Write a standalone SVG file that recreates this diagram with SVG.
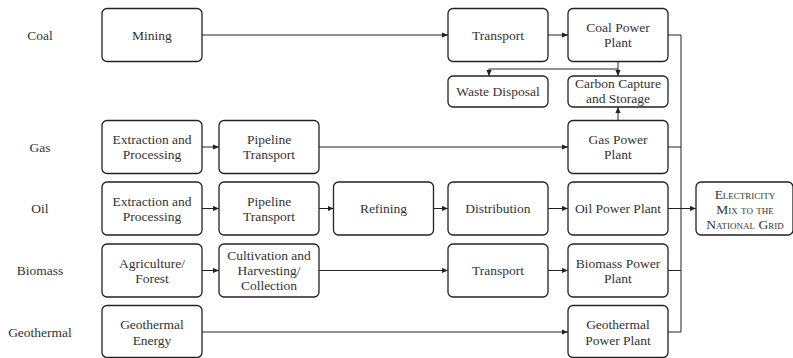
<svg xmlns="http://www.w3.org/2000/svg" width="793" height="358" viewBox="0 0 793 358">
<defs>
<marker id="ah" markerUnits="userSpaceOnUse" markerWidth="6" markerHeight="6" refX="6" refY="3" orient="auto">
<path d="M0,0.4 L6,3 L0,5.6 z" fill="#222"/>
</marker>
<style>
.box{fill:#fff;stroke:#222;stroke-width:1.3}
.c{fill:none;stroke:#222;stroke-width:1}
</style>
</defs>
<rect width="793" height="358" fill="#fff"/>
<g id="labels" fill="#333" text-anchor="middle">
<text style="font-family:'Liberation Serif',serif;font-size:13.5px" x="40" y="39.5">Coal</text>
<text style="font-family:'Liberation Serif',serif;font-size:13.5px" x="40" y="151.5">Gas</text>
<text style="font-family:'Liberation Serif',serif;font-size:13.5px" x="40" y="213">Oil</text>
<text style="font-family:'Liberation Serif',serif;font-size:13.5px" x="40" y="275">Biomass</text>
<text style="font-family:'Liberation Serif',serif;font-size:13.5px" x="40" y="336.5">Geothermal</text>
</g>
<g id="connectors">
<path class="c" d="M202,35 H448" marker-end="url(#ah)"/>
<path class="c" d="M548,35 H568" marker-end="url(#ah)"/>
<path class="c" d="M668,35 H681 V332"/>
<path class="c" d="M618,62 V69 H489 V76" marker-end="url(#ah)"/>
<path class="c" d="M618,69 V76" marker-end="url(#ah)"/>
<path class="c" d="M618,120.5 V107" marker-end="url(#ah)"/>
<path class="c" d="M202,147 H219" marker-end="url(#ah)"/>
<path class="c" d="M319,147 H568" marker-end="url(#ah)"/>
<path class="c" d="M668,147 H681"/>
<path class="c" d="M202,208.5 H219" marker-end="url(#ah)"/>
<path class="c" d="M319,208.5 H333.5" marker-end="url(#ah)"/>
<path class="c" d="M433.5,208.5 H448" marker-end="url(#ah)"/>
<path class="c" d="M548,208.5 H568" marker-end="url(#ah)"/>
<path class="c" d="M668,208.5 H696" marker-end="url(#ah)"/>
<path class="c" d="M202,270.5 H219" marker-end="url(#ah)"/>
<path class="c" d="M319,270.5 H448" marker-end="url(#ah)"/>
<path class="c" d="M548,270.5 H568" marker-end="url(#ah)"/>
<path class="c" d="M668,270.5 H681"/>
<path class="c" d="M202,332 H568" marker-end="url(#ah)"/>
<path class="c" d="M668,332 H681"/>
</g>
<g id="nodes" fill="#333" text-anchor="middle">
<g id="mining"><rect class="box" x="102" y="8.5" width="100" height="53" rx="5"/><text style="font-family:'Liberation Serif',serif;font-size:13.5px" x="152" y="39.5">Mining</text></g>
<g id="coal-transport"><rect class="box" x="448" y="8.5" width="100" height="53" rx="5"/><text style="font-family:'Liberation Serif',serif;font-size:13.5px" x="498" y="39.5">Transport</text></g>
<g id="coal-plant"><rect class="box" x="568" y="8.5" width="100" height="53" rx="5"/><text style="font-family:'Liberation Serif',serif;font-size:13.5px" x="618" y="32">Coal Power</text><text style="font-family:'Liberation Serif',serif;font-size:13.5px" x="618" y="47">Plant</text></g>
<g id="waste"><rect class="box" x="448" y="76" width="100" height="31" rx="5"/><text style="font-family:'Liberation Serif',serif;font-size:13.5px" x="498" y="95.5">Waste Disposal</text></g>
<g id="ccs"><rect class="box" x="568" y="76" width="100" height="31" rx="5"/><text style="font-family:'Liberation Serif',serif;font-size:13.5px" x="618" y="88">Carbon Capture</text><text style="font-family:'Liberation Serif',serif;font-size:13.5px" x="618" y="103">and Storage</text></g>
<g id="gas-extraction"><rect class="box" x="102" y="120.5" width="100" height="53" rx="5"/><text style="font-family:'Liberation Serif',serif;font-size:13.5px" x="152" y="144">Extraction and</text><text style="font-family:'Liberation Serif',serif;font-size:13.5px" x="152" y="159">Processing</text></g>
<g id="gas-pipeline"><rect class="box" x="219" y="120.5" width="100" height="53" rx="5"/><text style="font-family:'Liberation Serif',serif;font-size:13.5px" x="269" y="144">Pipeline</text><text style="font-family:'Liberation Serif',serif;font-size:13.5px" x="269" y="159">Transport</text></g>
<g id="gas-plant"><rect class="box" x="568" y="120.5" width="100" height="53" rx="5"/><text style="font-family:'Liberation Serif',serif;font-size:13.5px" x="618" y="144">Gas Power</text><text style="font-family:'Liberation Serif',serif;font-size:13.5px" x="618" y="159">Plant</text></g>
<g id="oil-extraction"><rect class="box" x="102" y="182" width="100" height="53" rx="5"/><text style="font-family:'Liberation Serif',serif;font-size:13.5px" x="152" y="205.5">Extraction and</text><text style="font-family:'Liberation Serif',serif;font-size:13.5px" x="152" y="220.5">Processing</text></g>
<g id="oil-pipeline"><rect class="box" x="219" y="182" width="100" height="53" rx="5"/><text style="font-family:'Liberation Serif',serif;font-size:13.5px" x="269" y="205.5">Pipeline</text><text style="font-family:'Liberation Serif',serif;font-size:13.5px" x="269" y="220.5">Transport</text></g>
<g id="refining"><rect class="box" x="333.5" y="182" width="100" height="53" rx="5"/><text style="font-family:'Liberation Serif',serif;font-size:13.5px" x="383.5" y="213">Refining</text></g>
<g id="distribution"><rect class="box" x="448" y="182" width="100" height="53" rx="5"/><text style="font-family:'Liberation Serif',serif;font-size:13.5px" x="498" y="213">Distribution</text></g>
<g id="oil-plant"><rect class="box" x="568" y="182" width="100" height="53" rx="5"/><text style="font-family:'Liberation Serif',serif;font-size:13.5px" x="618" y="213">Oil Power Plant</text></g>
<g id="grid"><rect class="box" x="696" y="182" width="97" height="53" rx="5"/><text style="font-family:'Liberation Serif',serif;font-size:13.5px;font-variant:small-caps" x="745" y="198.5">Electricity</text><text style="font-family:'Liberation Serif',serif;font-size:13.5px;font-variant:small-caps" x="745" y="213.5">Mix to the</text><text style="font-family:'Liberation Serif',serif;font-size:13.5px;font-variant:small-caps" x="745" y="228.5">National Grid</text></g>
<g id="agriculture"><rect class="box" x="102" y="244" width="100" height="53" rx="5"/><text style="font-family:'Liberation Serif',serif;font-size:13.5px" x="152" y="267.5">Agriculture/</text><text style="font-family:'Liberation Serif',serif;font-size:13.5px" x="152" y="282.5">Forest</text></g>
<g id="cultivation"><rect class="box" x="219" y="244" width="100" height="53" rx="5"/><text style="font-family:'Liberation Serif',serif;font-size:13.5px" x="269" y="260">Cultivation and</text><text style="font-family:'Liberation Serif',serif;font-size:13.5px" x="269" y="275">Harvesting/</text><text style="font-family:'Liberation Serif',serif;font-size:13.5px" x="269" y="290">Collection</text></g>
<g id="bio-transport"><rect class="box" x="448" y="244" width="100" height="53" rx="5"/><text style="font-family:'Liberation Serif',serif;font-size:13.5px" x="498" y="275">Transport</text></g>
<g id="bio-plant"><rect class="box" x="568" y="244" width="100" height="53" rx="5"/><text style="font-family:'Liberation Serif',serif;font-size:13.5px" x="618" y="267.5">Biomass Power</text><text style="font-family:'Liberation Serif',serif;font-size:13.5px" x="618" y="282.5">Plant</text></g>
<g id="geo-energy"><rect class="box" x="102" y="305.5" width="100" height="52" rx="5"/><text style="font-family:'Liberation Serif',serif;font-size:13.5px" x="152" y="329">Geothermal</text><text style="font-family:'Liberation Serif',serif;font-size:13.5px" x="152" y="344.5">Energy</text></g>
<g id="geo-plant"><rect class="box" x="568" y="305.5" width="100" height="52" rx="5"/><text style="font-family:'Liberation Serif',serif;font-size:13.5px" x="618" y="329">Geothermal</text><text style="font-family:'Liberation Serif',serif;font-size:13.5px" x="618" y="344.5">Power Plant</text></g>
</g>
</svg>
